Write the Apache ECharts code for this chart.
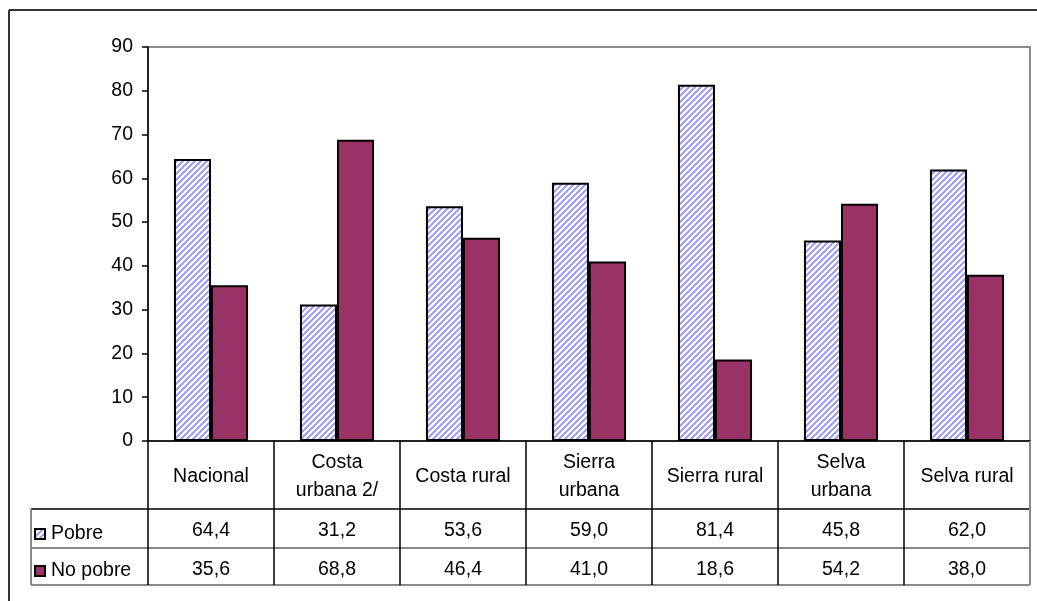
<!DOCTYPE html>
<html>
<head>
<meta charset="utf-8">
<script src="https://cdn.jsdelivr.net/npm/echarts@6/dist/echarts.min.js"></script>
<style>
  html, body { margin: 0; padding: 0; background: #fff; }
  #chart { width: 1037px; height: 601px; }
</style>
</head>
<body>
<div id="chart"></div>
<script>
// Poverty share by region (%)
const categories = ['Nacional', 'Costa\nurbana 2/', 'Costa rural', 'Sierra\nurbana', 'Sierra rural', 'Selva\nurbana', 'Selva rural'];
const pobre = [64.4, 31.2, 53.6, 59.0, 81.4, 45.8, 62.0];
const noPobre = [35.6, 68.8, 46.4, 41.0, 18.6, 54.2, 38.0];
const seriesNames = ['Pobre', 'No pobre'];
const yTicks = { min: 0, max: 90, interval: 10 };

const FONT = 'Liberation Sans, Arial, sans-serif';
const FS = 19.5;

// Diagonal blue/white hatching used for the "Pobre" bars
function stripeTile() {
  const c = document.createElement('canvas');
  c.width = 6; c.height = 6;
  const g = c.getContext('2d');
  g.fillStyle = '#ffffff';
  g.fillRect(0, 0, 6, 6);
  g.fillStyle = '#a3a3ff';
  for (let y = 0; y < 6; y++) {
    for (let x = 0; x < 6; x++) {
      if (((x + y) % 6) < 3) g.fillRect(x, y, 1, 1);
    }
  }
  return c;
}
const hatch = { image: stripeTile(), repeat: 'repeat' };

const fmt = v => v.toFixed(1).replace('.', ',');

const grid = { left: 148, right: 7, top: 47, bottom: 160 };
const plotBottom = 601 - grid.bottom;   // y of the zero line
const tableLeft = 31, tableRight = 1030;
const rowTop1 = 509, rowTop2 = 548, tableBottom = 585;

const chart = echarts.init(document.getElementById('chart'));

const valueAxis = (data, margin) => ({
  type: 'category',
  data: data,
  position: 'bottom',
  gridIndex: 0,
  axisLine: { show: false },
  axisTick: { show: false },
  axisLabel: {
    interval: 0, margin: margin, verticalAlign: 'middle',
    color: '#000', fontFamily: FONT, fontSize: FS
  },
  silent: true
});

chart.setOption({
  animation: false,
  backgroundColor: '#fff',
  textStyle: { fontFamily: FONT },
  grid: Object.assign({ show: true, borderColor: '#8c8c8c', borderWidth: 2, backgroundColor: 'transparent' }, grid),
  legend: {
    orient: 'vertical',
    left: 29, top: 519,
    itemGap: 17,
    itemWidth: 10, itemHeight: 10,
    icon: 'rect',
    data: seriesNames,
    textStyle: { color: '#000', fontFamily: FONT, fontSize: FS, padding: [0, 0, 0, 1] },
    selectedMode: false
  },
  xAxis: [
    {
      type: 'category',
      data: categories,
      position: 'bottom',
      axisLine: { show: true, lineStyle: { color: '#000', width: 1.5 } },
      axisTick: { show: true, length: tableBottom - plotBottom, lineStyle: { color: '#000', width: 1.5 } },
      axisLabel: {
        interval: 0, margin: 36, verticalAlign: 'middle', align: 'center',
        color: '#000', fontFamily: FONT, fontSize: FS, lineHeight: 28
      },
      splitLine: { show: false }
    },
    valueAxis(pobre.map(fmt), 90),
    valueAxis(noPobre.map(fmt), 129)
  ],
  yAxis: {
    type: 'value',
    min: yTicks.min, max: yTicks.max, interval: yTicks.interval,
    axisLine: { show: true, lineStyle: { color: '#000', width: 1.5 } },
    axisTick: { show: true, length: 6, lineStyle: { color: '#000', width: 1.5 } },
    axisLabel: { color: '#000', fontFamily: FONT, fontSize: FS, margin: 15 },
    splitLine: { show: false }
  },
  series: [
    {
      name: seriesNames[0], type: 'bar', data: pobre,
      barWidth: '29.4%', barGap: '0%',
      itemStyle: { color: hatch, borderColor: '#000', borderWidth: 2 }
    },
    {
      name: seriesNames[1], type: 'bar', data: noPobre,
      barWidth: '29.4%', barGap: '0%',
      itemStyle: { color: '#993366', borderColor: '#000', borderWidth: 2 }
    }
  ],
  graphic: [
    // outer frame
    { type: 'line', shape: { x1: 9, y1: 10, x2: 1037, y2: 10 }, style: { stroke: '#333', lineWidth: 2 }, silent: true },
    { type: 'line', shape: { x1: 9, y1: 10, x2: 9, y2: 601 }, style: { stroke: '#333', lineWidth: 2 }, silent: true },
    // data table rules
    { type: 'line', shape: { x1: tableLeft, y1: rowTop1, x2: tableRight, y2: rowTop1 }, style: { stroke: '#000', lineWidth: 1.5 }, silent: true },
    { type: 'line', shape: { x1: tableLeft, y1: rowTop2, x2: tableRight, y2: rowTop2 }, style: { stroke: '#888', lineWidth: 2 }, silent: true },
    { type: 'line', shape: { x1: tableLeft, y1: tableBottom, x2: tableRight, y2: tableBottom }, style: { stroke: '#888', lineWidth: 2 }, silent: true },
    { type: 'line', shape: { x1: tableLeft, y1: rowTop1, x2: tableLeft, y2: tableBottom }, style: { stroke: '#888', lineWidth: 2 }, silent: true },
    { type: 'line', shape: { x1: tableRight, y1: plotBottom, x2: tableRight, y2: tableBottom }, style: { stroke: '#888', lineWidth: 2 }, silent: true, z: 100 }
  ]
});
</script>
</body>
</html>
